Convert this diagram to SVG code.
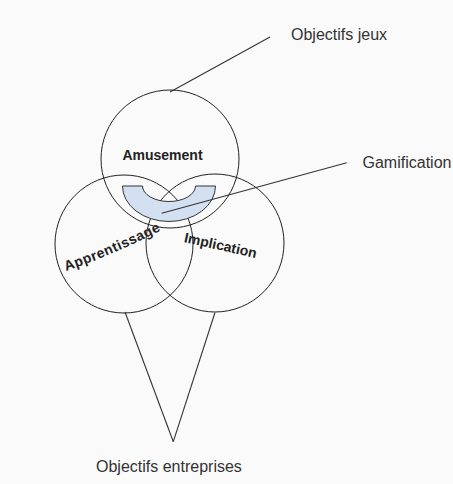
<svg xmlns="http://www.w3.org/2000/svg" width="453" height="484" viewBox="0 0 453 484">
<style>
.c{fill:none;stroke:#222;stroke-width:1}
.ln{fill:none;stroke:#333;stroke-width:1.1}
.lbl{font-family:"Liberation Sans",Arial,sans-serif;font-size:16px;fill:#333}
.b{font-family:"Liberation Sans",Arial,sans-serif;font-size:14px;font-weight:bold;fill:#222}
</style>
<defs>
<path id="pA" d="M 66 271 Q 113 255 166 228"/>
</defs>
<rect width="453" height="484" fill="#fafafa"/>
<g id="amusement">
<circle class="c" cx="170" cy="159" r="69"/>
<text class="b" x="162.5" y="160" text-anchor="middle">Amusement</text>
</g>
<g id="apprentissage">
<circle class="c" cx="124" cy="244" r="69"/>
<text class="b" letter-spacing="0.5"><textPath href="#pA">Apprentissage</textPath></text>
</g>
<g id="implication">
<circle class="c" cx="215" cy="243" r="69"/>
<text class="b" transform="translate(183.5 242) rotate(12.5)">Implication</text>
</g>
<g id="gamification-shape">
<path d="M 122.5 186 A 46.5 35.5 0 0 0 215.5 186 L 195.5 186 A 26.5 15.5 0 0 1 142.5 186 Z" fill="#d2e0f1" stroke="#333" stroke-width="1"/>
</g>
<g id="connectors">
<line class="ln" x1="170" y1="92" x2="270" y2="37"/>
<line class="ln" x1="161.7" y1="213.3" x2="346.7" y2="162.7"/>
<line class="ln" x1="125" y1="312" x2="173.3" y2="441.7"/>
<line class="ln" x1="215" y1="312.5" x2="173.3" y2="441.7"/>
</g>
<g id="objectifs-jeux">
<text class="lbl" x="291" y="39.5">Objectifs jeux</text>
</g>
<g id="gamification">
<text class="lbl" x="362.5" y="168">Gamification</text>
</g>
<g id="objectifs-entreprises">
<text class="lbl" x="96" y="472">Objectifs entreprises</text>
</g>
</svg>
